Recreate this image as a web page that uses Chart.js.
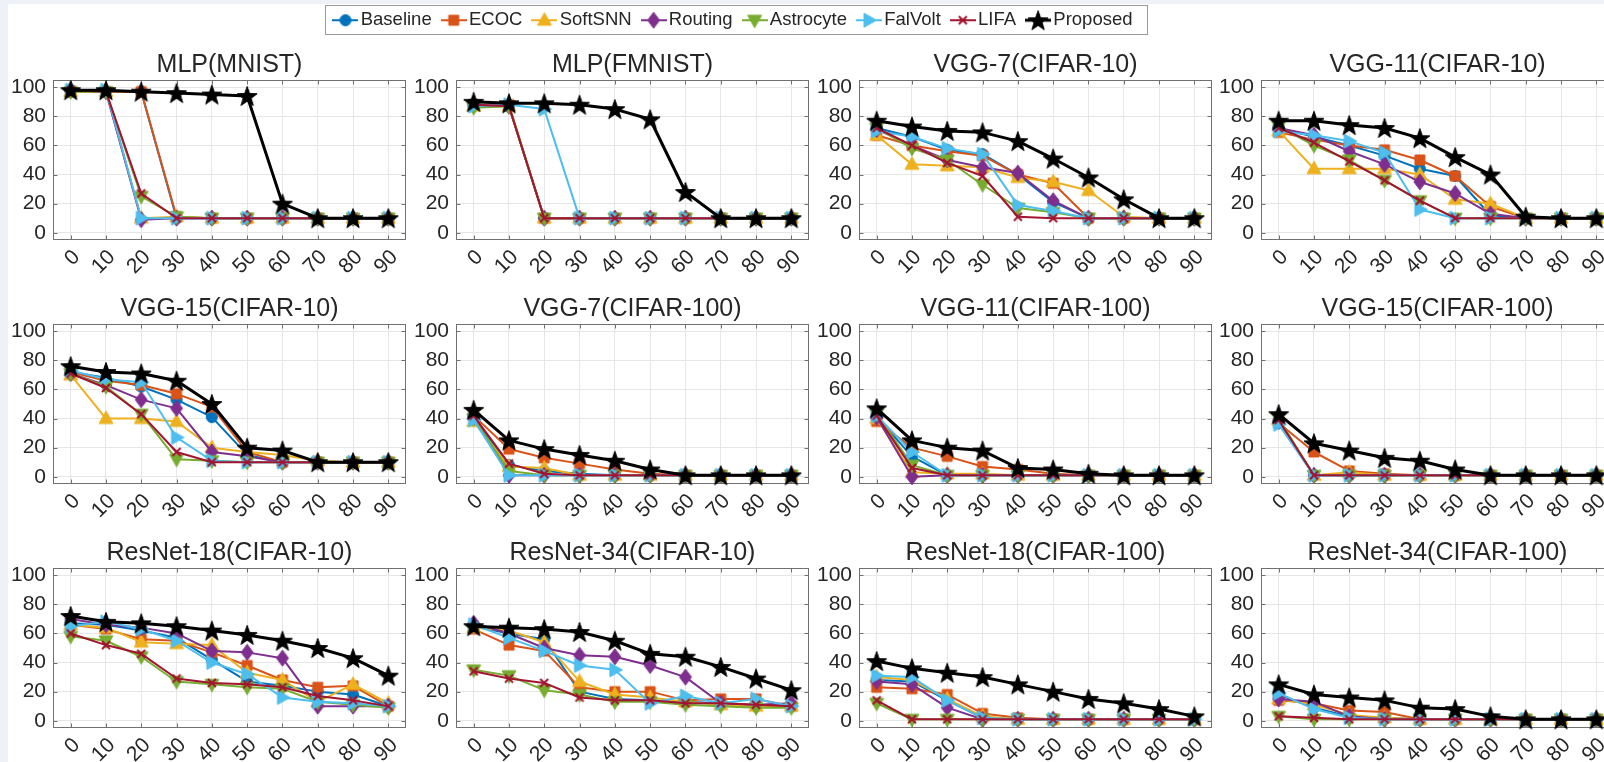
<!DOCTYPE html>
<html>
<head>
<meta charset="utf-8">
<script src="https://cdn.jsdelivr.net/npm/chart.js@4.4.1/dist/chart.umd.min.js"></script>
<style>
  html, body { margin: 0; padding: 0; }
  body { width: 1604px; height: 762px; overflow: hidden; position: relative; background: #fff; }
  .edge-left { position: absolute; left: 0; top: 0; width: 8px; height: 762px; background: #eef1f5; }
  .edge-top { position: absolute; left: 0; top: 0; width: 1604px; height: 4px; background: #eef1f5; }
  #legendBox { position: absolute; left: 325px; top: 5px; width: 821px; height: 28px; border: 1px solid #9a9a9a; background: #fff; }
  canvas { position: absolute; }
</style>
</head>
<body>
<div class="edge-left"></div>
<div class="edge-top"></div>
<div id="legendBox"></div>

<script>
const xLabels = ['0', '10', '20', '30', '40', '50', '60', '70', '80', '90'];
const yTicks = [0, 20, 40, 60, 80, 100];

const seriesNames = ['Baseline', 'ECOC', 'SoftSNN', 'Routing', 'Astrocyte', 'FalVolt', 'LIFA', 'Proposed'];
const seriesColors = ['#0072BD', '#D95319', '#EDB120', '#7E2F8E', '#77AC30', '#4DBEEE', '#A2142F', '#000000'];
const seriesMarkers = ['circle', 'square', 'triangleUp', 'diamond', 'triangleDown', 'triangleRight', 'cross', 'star'];

const panelTitles = [
    'MLP(MNIST)', 'MLP(FMNIST)', 'VGG-7(CIFAR-10)', 'VGG-11(CIFAR-10)',
    'VGG-15(CIFAR-10)', 'VGG-7(CIFAR-100)', 'VGG-11(CIFAR-100)', 'VGG-15(CIFAR-100)',
    'ResNet-18(CIFAR-10)', 'ResNet-34(CIFAR-10)', 'ResNet-18(CIFAR-100)', 'ResNet-34(CIFAR-100)'
];

// rows follow seriesNames: Baseline, ECOC, SoftSNN, Routing, Astrocyte, FalVolt, LIFA, Proposed
const mlpMnist = [
    [98, 97, 97, 10, 10, 10, 10, 10, 10, 10],
    [97, 97, 97, 11, 10, 10, 10, 10, 10, 10],
    [97, 97, 10, 11, 10, 10, 10, 10, 10, 10],
    [98, 97, 9, 10, 10, 10, 10, 10, 10, 10],
    [97, 97, 25, 11, 10, 10, 10, 10, 10, 10],
    [98, 98, 10, 10, 10, 10, 10, 10, 10, 10],
    [98, 97, 27, 10, 10, 10, 10, 10, 10, 10],
    [98, 98, 97, 96, 95, 94, 20, 10, 10, 10]
];
const mlpFmnist = [
    [88, 87, 10, 10, 10, 10, 10, 10, 10, 10],
    [88, 88, 10, 10, 10, 10, 10, 10, 10, 10],
    [87, 87, 10, 10, 10, 10, 10, 10, 10, 10],
    [88, 87, 10, 10, 10, 10, 10, 10, 10, 10],
    [86, 87, 10, 10, 10, 10, 10, 10, 10, 10],
    [87, 88, 85, 10, 10, 10, 10, 10, 10, 10],
    [88, 87, 10, 10, 10, 10, 10, 10, 10, 10],
    [90, 89, 89, 88, 85, 78, 28, 10, 10, 10]
];
const vgg7C10 = [
    [72, 66, 57, 54, 40, 21, 10, 10, 10, 10],
    [67, 60, 56, 53, 40, 34, 10, 10, 10, 10],
    [67, 47, 46, 45, 38, 35, 29, 11, 10, 10],
    [71, 60, 50, 45, 41, 22, 10, 10, 10, 10],
    [72, 58, 50, 33, 17, 14, 10, 10, 10, 10],
    [70, 66, 58, 54, 19, 15, 10, 10, 10, 10],
    [72, 60, 48, 39, 11, 10, 10, 10, 10, 10],
    [77, 73, 70, 69, 63, 51, 38, 23, 10, 10]
];
const vgg11C10 = [
    [72, 66, 60, 53, 44, 39, 12, 10, 10, 10],
    [69, 64, 60, 57, 50, 39, 18, 10, 10, 10],
    [70, 44, 44, 44, 40, 23, 20, 10, 10, 10],
    [72, 67, 56, 47, 35, 27, 13, 10, 10, 10],
    [73, 60, 50, 36, 22, 10, 10, 10, 10, 10],
    [70, 67, 63, 55, 16, 10, 10, 10, 10, 10],
    [72, 62, 49, 36, 22, 10, 10, 10, 10, 10],
    [77, 77, 74, 72, 65, 52, 40, 11, 10, 10]
];
const vgg15C10 = [
    [72, 68, 62, 53, 41, 15, 10, 10, 10, 10],
    [72, 66, 63, 57, 48, 17, 10, 10, 10, 10],
    [70, 40, 40, 38, 20, 17, 15, 11, 10, 10],
    [71, 63, 53, 47, 17, 14, 10, 10, 10, 10],
    [71, 62, 43, 12, 11, 10, 10, 10, 10, 10],
    [73, 67, 65, 27, 11, 10, 10, 10, 10, 10],
    [71, 61, 43, 17, 10, 10, 10, 10, 10, 10],
    [76, 72, 71, 66, 50, 20, 18, 10, 10, 10]
];
const vgg7C100 = [
    [41, 8, 4, 2, 1, 1, 1, 1, 1, 1],
    [42, 19, 13, 9, 5, 2, 1, 1, 1, 1],
    [38, 7, 6, 1, 1, 1, 1, 1, 1, 1],
    [41, 1, 1, 1, 1, 1, 1, 1, 1, 1],
    [40, 4, 1, 1, 1, 1, 1, 1, 1, 1],
    [39, 1, 1, 1, 1, 1, 1, 1, 1, 1],
    [42, 9, 2, 1, 1, 1, 1, 1, 1, 1],
    [46, 25, 19, 15, 11, 5, 1, 1, 1, 1]
];
const vgg11C100 = [
    [41, 14, 1, 1, 1, 1, 1, 1, 1, 1],
    [38, 20, 14, 7, 5, 2, 1, 1, 1, 1],
    [40, 3, 2, 2, 1, 1, 1, 1, 1, 1],
    [41, 0, 1, 1, 1, 1, 1, 1, 1, 1],
    [43, 8, 1, 1, 1, 1, 1, 1, 1, 1],
    [42, 17, 1, 1, 1, 1, 1, 1, 1, 1],
    [42, 6, 1, 1, 1, 1, 1, 1, 1, 1],
    [47, 25, 20, 18, 6, 5, 2, 1, 1, 1]
];
const vgg15C100 = [
    [37, 1, 1, 1, 1, 1, 1, 1, 1, 1],
    [37, 17, 4, 2, 1, 1, 1, 1, 1, 1],
    [39, 1, 3, 1, 1, 1, 1, 1, 1, 1],
    [38, 1, 1, 1, 1, 1, 1, 1, 1, 1],
    [40, 1, 1, 1, 1, 1, 1, 1, 1, 1],
    [36, 1, 1, 1, 1, 1, 1, 1, 1, 1],
    [39, 1, 1, 1, 1, 1, 1, 1, 1, 1],
    [43, 23, 18, 13, 11, 5, 1, 1, 1, 1]
];
const res18C10 = [
    [67, 66, 62, 57, 42, 27, 24, 20, 18, 10],
    [66, 63, 56, 55, 47, 38, 28, 23, 24, 10],
    [66, 64, 54, 53, 52, 33, 28, 13, 25, 12],
    [70, 66, 64, 60, 48, 47, 43, 10, 10, 10],
    [58, 55, 44, 27, 25, 23, 22, 13, 11, 9],
    [65, 68, 63, 55, 40, 32, 16, 13, 12, 10],
    [60, 52, 46, 29, 26, 25, 23, 17, 14, 10],
    [72, 68, 67, 65, 62, 59, 55, 50, 43, 31]
];
const res34C10 = [
    [65, 60, 56, 20, 15, 14, 13, 12, 10, 10],
    [63, 52, 48, 23, 20, 20, 14, 15, 15, 10],
    [64, 62, 54, 27, 18, 16, 13, 11, 10, 10],
    [67, 60, 50, 45, 44, 38, 30, 12, 11, 12],
    [35, 31, 21, 18, 13, 13, 11, 10, 9, 9],
    [66, 57, 48, 38, 35, 12, 17, 12, 15, 10],
    [34, 29, 26, 16, 14, 14, 12, 12, 11, 10],
    [65, 64, 63, 61, 55, 46, 44, 37, 29, 21]
];
const res18C100 = [
    [28, 27, 14, 2, 1, 1, 1, 1, 1, 1],
    [23, 22, 18, 5, 2, 1, 1, 1, 1, 1],
    [30, 28, 15, 3, 1, 1, 1, 1, 1, 1],
    [27, 25, 9, 1, 1, 1, 1, 1, 1, 1],
    [12, 1, 1, 1, 1, 1, 1, 1, 1, 1],
    [31, 30, 14, 2, 1, 1, 1, 1, 1, 1],
    [14, 1, 1, 1, 1, 1, 1, 1, 1, 1],
    [41, 36, 33, 30, 25, 20, 15, 12, 8, 3]
];
const res34C100 = [
    [18, 9, 3, 2, 1, 1, 1, 1, 1, 1],
    [14, 12, 7, 6, 1, 1, 1, 1, 1, 1],
    [15, 11, 4, 2, 1, 1, 1, 1, 1, 1],
    [15, 13, 3, 1, 1, 1, 1, 1, 1, 1],
    [3, 1, 1, 1, 1, 1, 1, 1, 1, 1],
    [19, 8, 2, 1, 1, 1, 1, 1, 1, 1],
    [3, 2, 1, 1, 1, 1, 1, 1, 1, 1],
    [25, 18, 16, 14, 9, 8, 3, 1, 1, 1]
];

const panelData = [mlpMnist, mlpFmnist, vgg7C10, vgg11C10, vgg15C10, vgg7C100,
    vgg11C100, vgg15C100, res18C10, res34C10, res18C100, res34C100];

const FONT = "'Liberation Sans', Arial, Helvetica, sans-serif";
const TEXT = '#262626';
Chart.defaults.font.family = FONT;
Chart.defaults.color = TEXT;

// matlab-ish markers drawn on small canvases, used as pointStyle
function drawMarker(ctx, kind, cx, cy, color) {
    ctx.fillStyle = color;
    ctx.strokeStyle = color;
    ctx.lineWidth = 1;
    ctx.beginPath();
    if (kind === 'circle') {
        ctx.arc(cx, cy, 5.5, 0, Math.PI * 2);
    } else if (kind === 'square') {
        ctx.rect(cx - 5, cy - 5, 10, 10);
    } else if (kind === 'triangleUp') {
        ctx.moveTo(cx, cy - 7.5); ctx.lineTo(cx + 7, cy + 5); ctx.lineTo(cx - 7, cy + 5); ctx.closePath();
    } else if (kind === 'triangleDown') {
        ctx.moveTo(cx, cy + 7.5); ctx.lineTo(cx + 7, cy - 5); ctx.lineTo(cx - 7, cy - 5); ctx.closePath();
    } else if (kind === 'triangleRight') {
        ctx.moveTo(cx + 7.5, cy); ctx.lineTo(cx - 5, cy - 7); ctx.lineTo(cx - 5, cy + 7); ctx.closePath();
    } else if (kind === 'diamond') {
        ctx.moveTo(cx, cy - 8); ctx.lineTo(cx + 6, cy); ctx.lineTo(cx, cy + 8); ctx.lineTo(cx - 6, cy); ctx.closePath();
    } else if (kind === 'cross') {
        ctx.lineWidth = 2;
        ctx.moveTo(cx - 4, cy - 4); ctx.lineTo(cx + 4, cy + 4);
        ctx.moveTo(cx + 4, cy - 4); ctx.lineTo(cx - 4, cy + 4);
        ctx.stroke();
        return;
    } else if (kind === 'star') {
        const R = 10.5, r = 4.2;
        for (let k = 0; k < 10; k++) {
            const rad = k % 2 === 0 ? R : r;
            const a = -Math.PI / 2 + k * Math.PI / 5;
            const px = cx + rad * Math.cos(a), py = cy + rad * Math.sin(a) + 1;
            if (k === 0) ctx.moveTo(px, py); else ctx.lineTo(px, py);
        }
        ctx.closePath();
    }
    ctx.fill();
    ctx.stroke();
}

function markerImage(kind, color, lineLen) {
    const c = document.createElement('canvas');
    const w = lineLen || 24, h = 24;
    c.width = w;
    c.height = h;
    const ctx = c.getContext('2d');
    if (lineLen) {
        ctx.strokeStyle = color;
        ctx.lineWidth = kind === 'star' ? 3 : 2;
        ctx.beginPath();
        ctx.moveTo(0, h / 2);
        ctx.lineTo(w, h / 2);
        ctx.stroke();
    }
    drawMarker(ctx, kind, w / 2, h / 2, color);
    return c;
}

const pointImages = seriesMarkers.map((m, i) => markerImage(m, seriesColors[i]));
const legendImages = seriesMarkers.map((m, i) => markerImage(m, seriesColors[i], 26));

// box + inner ticks like matlab axes
const framePlugin = {
    id: 'frame',
    beforeDatasetsDraw(chart) {
        const {ctx, chartArea: a, scales: {x, y}} = chart;
        const l = Math.round(a.left) + 0.5, r = Math.round(a.right) - 0.5;
        const t = Math.round(a.top) + 0.5, b = Math.round(a.bottom) - 0.5;
        ctx.save();
        ctx.strokeStyle = '#707070';
        ctx.lineWidth = 1;
        ctx.strokeRect(l, t, r - l, b - t);
        ctx.beginPath();
        xLabels.forEach((lab, i) => {
            const px = Math.round(x.getPixelForValue(i)) + 0.5;
            ctx.moveTo(px, b); ctx.lineTo(px, b - 4);
            ctx.moveTo(px, t); ctx.lineTo(px, t + 4);
        });
        yTicks.forEach(v => {
            const py = Math.round(y.getPixelForValue(v)) + 0.5;
            ctx.moveTo(l, py); ctx.lineTo(l + 4, py);
            ctx.moveTo(r, py); ctx.lineTo(r - 4, py);
        });
        ctx.stroke();
        ctx.restore();
    }
};

const plotLefts = [53, 456, 859, 1261];
const plotTops = [80, 324, 568];
const plotW = 353, plotH = 160;
const yAxisW = 50, titleH = 40, xAxisH = 42;

panelData.forEach((rows, p) => {
    const col = p % 4, row = Math.floor(p / 4);
    const cv = document.createElement('canvas');
    cv.width = yAxisW * 2 + plotW;
    cv.height = titleH + plotH + xAxisH;
    cv.style.left = (plotLefts[col] - yAxisW) + 'px';
    cv.style.top = (plotTops[row] - titleH) + 'px';
    document.body.appendChild(cv);

    new Chart(cv, {
        type: 'line',
        data: {
            labels: xLabels,
            datasets: rows.map((vals, i) => ({
                label: seriesNames[i],
                data: vals,
                borderColor: seriesColors[i],
                backgroundColor: seriesColors[i],
                borderWidth: i === 7 ? 3 : 2,
                borderJoinStyle: 'round',
                pointStyle: pointImages[i],
                pointRadius: 6,
                tension: 0,
                order: 7 - i,
                clip: false
            }))
        },
        options: {
            responsive: false,
            animation: false,
            events: [],
            layout: { padding: 0 },
            scales: {
                x: {
                    type: 'category',
                    offset: true,
                    grid: { color: '#e6e6e6', offset: false, drawTicks: false },
                    border: { display: false },
                    ticks: { minRotation: 45, maxRotation: 45, autoSkip: false, padding: 5, labelOffset: 6,
                        font: { size: 21 }, color: TEXT },
                    afterFit: s => { s.height = xAxisH; }
                },
                y: {
                    type: 'linear',
                    min: -5,
                    max: 105,
                    afterBuildTicks: s => { s.ticks = yTicks.map(v => ({ value: v })); },
                    grid: { color: '#e6e6e6', drawTicks: false },
                    border: { display: false },
                    ticks: { padding: 7, font: { size: 21 }, color: TEXT },
                    afterFit: s => { s.width = yAxisW; }
                },
                y2: {
                    type: 'linear',
                    position: 'right',
                    display: true,
                    grid: { display: false, drawTicks: false },
                    border: { display: false },
                    ticks: { display: false },
                    afterFit: s => { s.width = yAxisW; }
                }
            },
            plugins: {
                legend: { display: false },
                tooltip: { enabled: false },
                title: {
                    display: true,
                    text: panelTitles[p],
                    color: TEXT,
                    font: { size: 25, weight: 'normal', lineHeight: 1 },
                    padding: { top: 13, bottom: 2 }
                }
            }
        },
        plugins: [framePlugin]
    });
});

// legend: its own chart, only the legend is shown
const lg = document.createElement('canvas');
lg.width = 1000;
lg.height = 90;
lg.style.left = (736 - 500) + 'px';
lg.style.top = '-5px';
document.body.appendChild(lg);
new Chart(lg, {
    type: 'line',
    data: {
        labels: [],
        datasets: seriesNames.map((n, i) => ({ label: n, data: [], borderColor: seriesColors[i] }))
    },
    options: {
        responsive: false,
        animation: false,
        events: [],
        scales: { x: { display: false }, y: { display: false } },
        plugins: {
            tooltip: { enabled: false },
            legend: {
                display: true,
                position: 'top',
                align: 'center',
                maxHeight: 80,
                labels: {
                    usePointStyle: true,
                    pointStyleWidth: 12,
                    padding: 16,
                    color: TEXT,
                    font: { size: 18.5 },
                    generateLabels: () => seriesNames.map((n, i) => ({
                        text: n,
                        pointStyle: legendImages[i],
                        fillStyle: seriesColors[i],
                        strokeStyle: seriesColors[i],
                        lineWidth: 0,
                        hidden: false,
                        datasetIndex: i,
                        fontColor: TEXT
                    }))
                }
            }
        }
    }
});
</script>
</body>
</html>
